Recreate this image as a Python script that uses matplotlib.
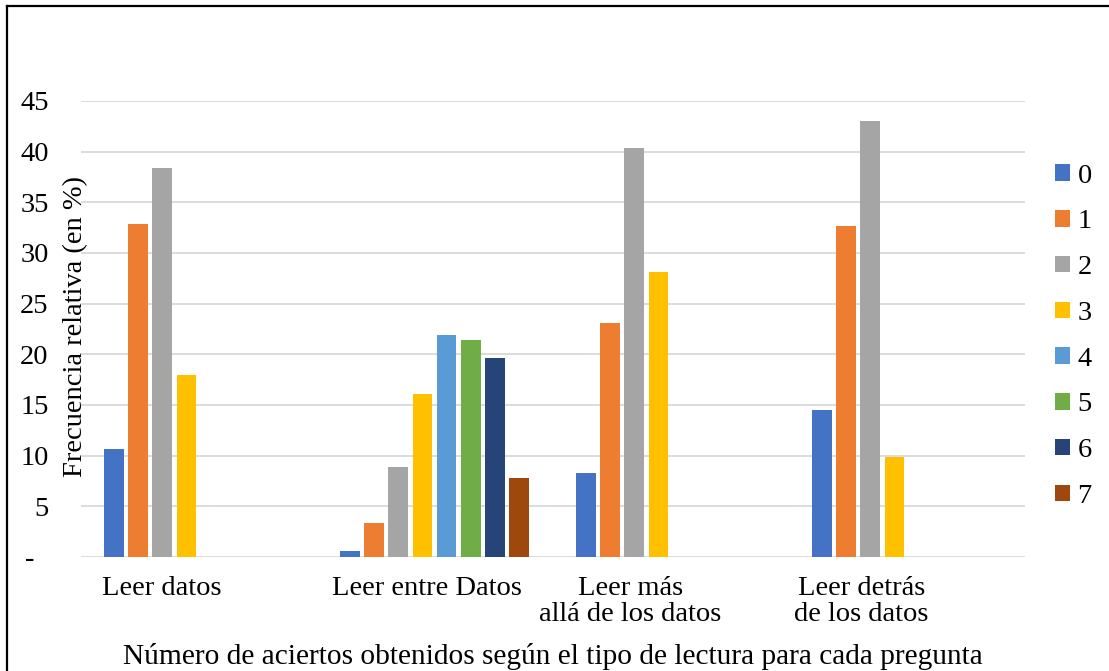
import matplotlib.pyplot as plt
import matplotlib.transforms as mtransforms
from matplotlib.lines import Line2D
import numpy as np

plt.rcParams["font.family"] = ["Liberation Serif", "DejaVu Serif"]

CATEGORIES = ["Leer datos", "Leer entre Datos", "Leer más\nallá de los datos", "Leer detrás\nde los datos"]
SERIES = ["0", "1", "2", "3", "4", "5", "6", "7"]
# relative frequency (%) per number of correct answers, one list per category
LEER_DATOS = [10.7, 32.9, 38.4, 18.0, 0, 0, 0, 0]
LEER_ENTRE = [0.6, 3.4, 8.9, 16.1, 21.9, 21.4, 19.6, 7.8]
LEER_MAS_ALLA = [8.3, 23.1, 40.4, 28.1, 0, 0, 0, 0]
LEER_DETRAS = [14.5, 32.7, 43.0, 9.9, 0, 0, 0, 0]
Y_TICKS = [0, 5, 10, 15, 20, 25, 30, 35, 40, 45]
Y_TICK_LABELS = ["-  ", "5", "10", "15", "20", "25", "30", "35", "40", "45"]

COLORS = ["#4472C4", "#ED7D31", "#A5A5A5", "#FFC000", "#5B9BD5", "#70AD47", "#264478", "#9E480E"]
LABEL_SHIFT_PX = [-37, -8, -40, -45]
FS = 20.5

W, H = 1109, 671
fig = plt.figure(figsize=(W / 100, H / 100), dpi=100)
ax = fig.add_axes([80.5 / W, 1 - 557 / H, 944 / W, 456 / H])

data = np.array([LEER_DATOS, LEER_ENTRE, LEER_MAS_ALLA, LEER_DETRAS])
x = np.arange(len(CATEGORIES))
slot = 0.1025
bar_w = 0.0826
for i, name in enumerate(SERIES):
    vals = data[:, i]
    offs = (i - (len(SERIES) - 1) / 2) * slot
    mask = vals > 0
    ax.bar(x[mask] + offs, vals[mask], width=bar_w, color=COLORS[i], label=name, zorder=3)

ax.set_xlim(-0.5, len(CATEGORIES) - 0.5)
ax.set_ylim(0, 45)
ax.set_yticks(Y_TICKS)
ax.set_yticklabels(Y_TICK_LABELS)
ax.set_xticks(x)
ax.set_xticklabels(CATEGORIES, linespacing=1.02)
ax.grid(axis="y", color="#D9D9D9", linewidth=1.3, zorder=0)
for s in ax.spines.values():
    s.set_visible(False)
ax.tick_params(axis="both", length=0, labelsize=FS)
ax.tick_params(axis="y", pad=23)
ax.tick_params(axis="x", pad=14)

for lab, dx in zip(ax.get_xticklabels(), LABEL_SHIFT_PX):
    lab.set_transform(lab.get_transform() + mtransforms.Affine2D().translate(dx, 0))

ax.set_ylabel("Frecuencia relativa (en %)", fontsize=FS)
ax.yaxis.set_label_coords(0.008, 0.505)
ax.set_xlabel("Número de aciertos obtenidos según el tipo de lectura para cada pregunta", fontsize=21.2, labelpad=12)

ax.legend(loc="center left", bbox_to_anchor=(1.032, 0.484), frameon=False, fontsize=FS,
          handlelength=0.52, handleheight=0.52, handletextpad=0.28, labelspacing=0.73,
          borderpad=0, borderaxespad=0)

# frame lines (top and left only are visible in the source)
fig.add_artist(Line2D([7 / W, 7 / W], [0, 1 - 6 / H], transform=fig.transFigure, color="black", linewidth=1.6))
fig.add_artist(Line2D([7 / W, 1], [1 - 6 / H, 1 - 6 / H], transform=fig.transFigure, color="black", linewidth=1.6))

fig.savefig("out.png", dpi=100)
